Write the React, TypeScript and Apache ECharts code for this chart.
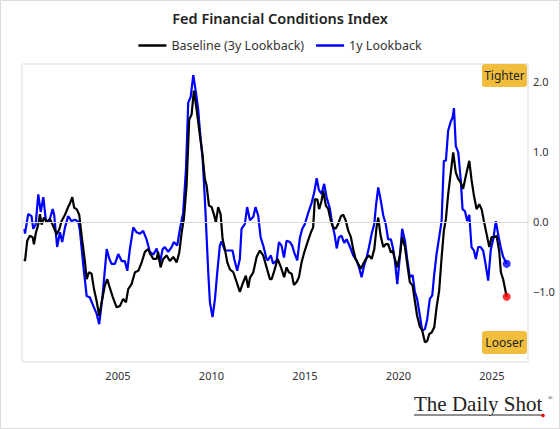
import React, { useEffect, useRef } from "react";
import * as echarts from "echarts";

const TITLE = "Fed Financial Conditions Index";
const SERIES_NAMES = ["Baseline (3y Lookback)", "1y Lookback"];
const X_TICKS = [2005, 2010, 2015, 2020, 2025];
const Y_TICKS = [-1, 0, 1, 2];

const baselineYears = [
  2000.0, 2000.03, 2000.15, 2000.29, 2000.44, 2000.51, 2000.61, 2000.74, 2000.83, 2000.92,
  2001.04, 2001.19, 2001.36, 2001.54, 2001.72, 2001.86, 2001.99, 2002.17, 2002.34, 2002.43,
  2002.56, 2002.66, 2002.79, 2002.93, 2003.06, 2003.24, 2003.33, 2003.45, 2003.59, 2003.72,
  2003.86, 2004.0, 2004.13, 2004.3, 2004.43, 2004.53, 2004.72, 2004.93, 2005.11, 2005.28,
  2005.43, 2005.55, 2005.73, 2005.91, 2006.09, 2006.27, 2006.44, 2006.62, 2006.71, 2006.89,
  2007.07, 2007.15, 2007.28, 2007.42, 2007.6, 2007.78, 2007.96, 2008.14, 2008.28, 2008.41,
  2008.53, 2008.67, 2008.81, 2008.94, 2009.06, 2009.21, 2009.35, 2009.53, 2009.65, 2009.74,
  2009.87, 2010.01, 2010.13, 2010.24, 2010.36, 2010.49, 2010.6, 2010.72, 2010.85, 2010.99,
  2011.17, 2011.35, 2011.52, 2011.7, 2011.84, 2011.97, 2012.06, 2012.24, 2012.42, 2012.59,
  2012.77, 2012.95, 2013.13, 2013.22, 2013.36, 2013.54, 2013.72, 2013.89, 2014.02, 2014.14,
  2014.29, 2014.41, 2014.56, 2014.68, 2014.82, 2014.96, 2015.14, 2015.32, 2015.44, 2015.53,
  2015.66, 2015.76, 2015.89, 2015.98, 2016.12, 2016.25, 2016.39, 2016.51, 2016.64, 2016.78,
  2016.93, 2017.05, 2017.18, 2017.32, 2017.46, 2017.58, 2017.71, 2017.85, 2017.99, 2018.12,
  2018.26, 2018.42, 2018.57, 2018.71, 2018.83, 2018.92, 2019.05, 2019.19, 2019.32, 2019.45,
  2019.6, 2019.69, 2019.81, 2019.94, 2020.09, 2020.2, 2020.35, 2020.47, 2020.61, 2020.76,
  2020.88, 2021.0, 2021.15, 2021.27, 2021.42, 2021.54, 2021.65, 2021.78, 2021.92, 2022.04,
  2022.18, 2022.31, 2022.43, 2022.54, 2022.66, 2022.79, 2022.93, 2023.07, 2023.2, 2023.33,
  2023.46, 2023.61, 2023.79, 2023.91, 2024.04, 2024.18, 2024.32, 2024.45, 2024.57, 2024.72,
  2024.86, 2024.98, 2025.11, 2025.25, 2025.39, 2025.48, 2025.6, 2025.79,
];
const baselineValues = [
  -0.53, -0.56, -0.27, -0.2, -0.22, -0.32, -0.16, -0.04, 0.11, -0.04,
  0.06, 0.0, 0.04, -0.06, -0.18, -0.11, 0.01, 0.1, 0.21, 0.26,
  0.35, 0.2, 0.18, 0.1, -0.2, -0.58, -0.82, -0.72, -0.74, -0.96,
  -1.13, -1.34, -1.15, -0.91, -0.82, -0.91, -1.07, -1.22, -1.2, -1.1,
  -1.15, -0.96, -0.89, -0.72, -0.7, -0.58, -0.43, -0.39, -0.45, -0.53,
  -0.53, -0.43, -0.65, -0.53, -0.48, -0.56, -0.5, -0.58, -0.44, -0.15,
  0.05, 0.51, 1.46, 1.53, 1.87, 1.6, 1.3, 0.94, 0.61, 0.52,
  0.23, 0.21, 0.11, -0.01, 0.21, 0.11, -0.25, -0.39, -0.58, -0.68,
  -0.72, -0.86, -1.0, -0.86, -0.77, -0.94, -0.8, -0.72, -0.5, -0.41,
  -0.48, -0.65, -0.82, -0.82, -0.7, -0.53, -0.65, -0.79, -0.65, -0.72,
  -0.74, -0.9, -0.86, -0.79, -0.58, -0.44, -0.29, -0.15, -0.08, 0.32,
  0.32, 0.18, 0.3, 0.44, 0.23, 0.18, 0.01, -0.08, -0.1, -0.03,
  0.08, 0.1, 0.02, -0.13, -0.22, -0.39, -0.53, -0.6, -0.67, -0.6,
  -0.53, -0.48, -0.53, -0.39, -0.08, 0.06, -0.2, -0.36, -0.32, -0.32,
  -0.44, -0.41, -0.53, -0.65, -0.46, -0.22, -0.36, -0.6, -0.86, -0.91,
  -1.13, -1.34, -1.5, -1.55, -1.72, -1.7, -1.6, -1.58, -1.5, -1.22,
  -0.98, -0.51, -0.13, 0.04, 0.39, 0.68, 0.99, 0.7, 0.61, 0.56,
  0.47, 0.66, 0.87, 0.6, 0.37, 0.18, 0.25, 0.18, 0.01, -0.18,
  -0.36, -0.22, -0.22, -0.2, -0.42, -0.72, -0.82, -1.07,
];

const lookback1yYears = [
  2000.0, 2000.03, 2000.2, 2000.38, 2000.47, 2000.6, 2000.74, 2000.87, 2001.01, 2001.15,
  2001.33, 2001.51, 2001.59, 2001.75, 2001.9, 2002.02, 2002.17, 2002.34, 2002.52, 2002.7,
  2002.88, 2002.97, 2003.15, 2003.33, 2003.5, 2003.68, 2003.86, 2004.0, 2004.18, 2004.4,
  2004.53, 2004.66, 2004.84, 2005.02, 2005.2, 2005.37, 2005.5, 2005.64, 2005.82, 2006.0,
  2006.18, 2006.35, 2006.53, 2006.71, 2006.89, 2007.07, 2007.25, 2007.39, 2007.51, 2007.69,
  2007.87, 2007.99, 2008.17, 2008.32, 2008.49, 2008.64, 2008.76, 2008.89, 2009.03, 2009.17,
  2009.29, 2009.39, 2009.53, 2009.65, 2009.74, 2009.83, 2009.92, 2010.06, 2010.19, 2010.31,
  2010.45, 2010.54, 2010.72, 2010.9, 2011.13, 2011.22, 2011.38, 2011.52, 2011.61, 2011.79,
  2011.91, 2012.06, 2012.24, 2012.36, 2012.5, 2012.63, 2012.77, 2012.95, 2013.01, 2013.18,
  2013.3, 2013.49, 2013.61, 2013.75, 2013.88, 2014.02, 2014.2, 2014.32, 2014.43, 2014.59,
  2014.73, 2014.86, 2015.0, 2015.18, 2015.36, 2015.5, 2015.63, 2015.75, 2015.89, 2016.03,
  2016.16, 2016.34, 2016.46, 2016.6, 2016.7, 2016.82, 2016.96, 2017.1, 2017.23, 2017.35,
  2017.46, 2017.58, 2017.76, 2017.89, 2018.03, 2018.16, 2018.3, 2018.42, 2018.57, 2018.71,
  2018.8, 2018.92, 2019.06, 2019.19, 2019.32, 2019.45, 2019.6, 2019.72, 2019.81, 2019.94,
  2020.09, 2020.2, 2020.35, 2020.47, 2020.61, 2020.76, 2020.88, 2021.0, 2021.15, 2021.27,
  2021.42, 2021.54, 2021.68, 2021.81, 2021.9, 2022.04, 2022.18, 2022.31, 2022.43, 2022.54,
  2022.66, 2022.79, 2022.9, 2022.97, 2023.07, 2023.2, 2023.33, 2023.43, 2023.56, 2023.68,
  2023.79, 2023.91, 2024.04, 2024.14, 2024.27, 2024.4, 2024.53, 2024.66, 2024.8, 2024.94,
  2025.07, 2025.21, 2025.34, 2025.47, 2025.6, 2025.79,
];
const lookback1yValues = [
  -0.1, -0.17, 0.11, 0.08, -0.1, -0.04, 0.39, 0.14, 0.35, 0.01,
  0.01, 0.18, 0.1, -0.36, -0.15, -0.29, -0.08, 0.08, 0.01, 0.03,
  0.0, -0.13, -0.63, -1.06, -1.08, -1.2, -1.31, -1.46, -1.05, -0.39,
  -0.52, -0.6, -0.6, -0.46, -0.56, -0.56, -0.7, -0.39, -0.08, -0.15,
  -0.17, -0.13, -0.25, -0.43, -0.47, -0.38, -0.58, -0.39, -0.36, -0.43,
  -0.36, -0.29, -0.34, -0.1, 0.13, 0.75, 1.7, 1.78, 2.09, 1.85,
  1.61, 1.28, 0.9, 0.32, -0.2, -0.72, -1.15, -1.36, -1.1, -0.73,
  -0.34, -0.28, -0.41, -0.41, -0.41, -0.53, -0.7, -0.53, -0.1, -0.03,
  0.21, 0.02, 0.07, 0.21, 0.09, -0.22, -0.34, -0.53, -0.55, -0.48,
  -0.6, -0.55, -0.29, -0.34, -0.51, -0.27, -0.29, -0.34, -0.44, -0.55,
  -0.23, -0.1, -0.03, 0.13, 0.27, 0.42, 0.62, 0.45, 0.4, 0.54,
  0.35, 0.18, -0.03, -0.2, -0.38, -0.22, -0.2, -0.3, -0.25, -0.32,
  -0.39, -0.48, -0.55, -0.65, -0.79, -0.63, -0.51, -0.37, -0.17, -0.03,
  0.23, 0.49, 0.3, 0.09, -0.03, -0.25, -0.25, -0.39, -0.55, -0.89,
  -0.46, -0.1, -0.27, -0.53, -0.79, -0.76, -1.0, -1.1, -1.34, -1.55,
  -1.53, -1.39, -1.1, -1.05, -0.79, -0.46, -0.22, 0.01, 0.87, 0.87,
  1.3, 1.42, 1.49, 1.62, 1.08, 0.99, 0.61, 0.18, 0.15, 0.01,
  0.1, -0.36, -0.41, -0.53, -0.36, -0.36, -0.41, -0.6, -0.84, -0.4,
  -0.25, 0.01, -0.19, -0.36, -0.5, -0.6,
];

const FONT = "Noto Sans";

function pairs(xs: number[], ys: number[]) {
  return xs.map((x, i) => [x, ys[i]]);
}

function label(text: string, x: number, y: number) {
  return {
    type: "group",
    x,
    y,
    children: [
      { type: "rect", shape: { x: 0, y: 0, width: 45, height: 23, r: 3 }, style: { fill: "#F0BE3C" } },
      {
        type: "text",
        x: 22.5,
        y: 11.5,
        style: { text, fontFamily: FONT, fontSize: 12, fill: "#222", align: "center", verticalAlign: "middle" },
      },
    ],
  };
}

export default function App() {
  const ref = useRef<HTMLDivElement>(null);
  useEffect(() => {
    document.body.style.margin = "0";
    if (!ref.current) return;
    const chart = echarts.init(ref.current, null, { renderer: "svg" });
    const base = pairs(baselineYears, baselineValues);
    const one = pairs(lookback1yYears, lookback1yValues);
    chart.setOption({
      animation: false,
      backgroundColor: "#fff",
      title: {
        text: TITLE,
        left: "center",
        top: 5,
        textStyle: { fontFamily: FONT, fontSize: 14.5, fontWeight: 600, color: "#222" },
      },
      legend: {
        top: 34,
        left: "center",
        data: SERIES_NAMES,
        icon: "rect",
        itemWidth: 28,
        itemHeight: 2.5,
        itemGap: 12,
        textStyle: { fontFamily: FONT, fontSize: 12.5, color: "#333" },
      },
      grid: { left: 22, right: 32, top: 64, bottom: 67, show: true, borderColor: "#dddddd", borderWidth: 1 },
      xAxis: {
        type: "value",
        min: 1999.87,
        max: 2026.93,
        axisLine: { show: false },
        axisTick: { show: false },
        splitLine: { show: false },
        axisLabel: {
          customValues: X_TICKS,
          margin: 8,
          fontFamily: FONT,
          fontSize: 11,
          color: "#333",
          formatter: (v: number) => String(v),
        },
      },
      yAxis: {
        type: "value",
        position: "right",
        min: -2,
        max: 2.25,
        axisLine: { show: false },
        axisTick: { show: false },
        splitLine: { show: false },
        axisLabel: {
          customValues: Y_TICKS,
          margin: 5,
          fontFamily: FONT,
          fontSize: 11,
          color: "#333",
          formatter: (v: number) => (v < 0 ? "\u2212" + Math.abs(v).toFixed(1) : v.toFixed(1)),
        },
      },
      graphic: [
        {
          type: "rect",
          shape: { x: 0.5, y: 0.5, width: 559, height: 428 },
          style: { fill: "none", stroke: "#dcdcdc", lineWidth: 1 },
          silent: true,
        },
        label("Tighter", 482, 64),
        label("Looser", 482, 331),
        {
          type: "text",
          x: 414,
          y: 393,
          style: { text: "The Daily Shot", fontFamily: "Liberation Serif", fontSize: 21, fill: "#222" },
        },
        { type: "line", shape: { x1: 414, y1: 415, x2: 488, y2: 415 }, style: { stroke: "#222", lineWidth: 1 } },
        { type: "line", shape: { x1: 492, y1: 415, x2: 542, y2: 415 }, style: { stroke: "#222", lineWidth: 1 } },
        { type: "circle", shape: { cx: 543, cy: 415.5, r: 1.8 }, style: { fill: "#ff0000" } },
        {
          type: "text",
          x: 548,
          y: 395,
          style: { text: "\u00ae", fontFamily: "Liberation Serif", fontSize: 6, fill: "#222" },
        },
      ],
      series: [
        {
          name: SERIES_NAMES[0],
          type: "line",
          data: base,
          showSymbol: false,
          color: "#000000",
          lineStyle: { width: 2.2, color: "#000000" },
          z: 3,
          markLine: {
            silent: true,
            symbol: "none",
            label: { show: false },
            lineStyle: { color: "#d9d9d9", width: 1, type: "solid" },
            data: [{ yAxis: 0 }],
          },
        },
        {
          name: SERIES_NAMES[1],
          type: "line",
          data: one,
          showSymbol: false,
          color: "#0000ff",
          lineStyle: { width: 2.2, color: "#0000ff" },
          z: 2,
        },
        {
          name: "end1y",
          type: "scatter",
          data: [one[one.length - 1]],
          symbolSize: 8,
          itemStyle: { color: "#0000ff" },
          z: 4,
        },
        {
          name: "endBase",
          type: "scatter",
          data: [base[base.length - 1]],
          symbolSize: 8,
          itemStyle: { color: "#ff0000" },
          z: 4,
        },
      ],
    });
    return () => chart.dispose();
  }, []);
  return <div ref={ref} style={{ width: 560, height: 429 }} />;
}
